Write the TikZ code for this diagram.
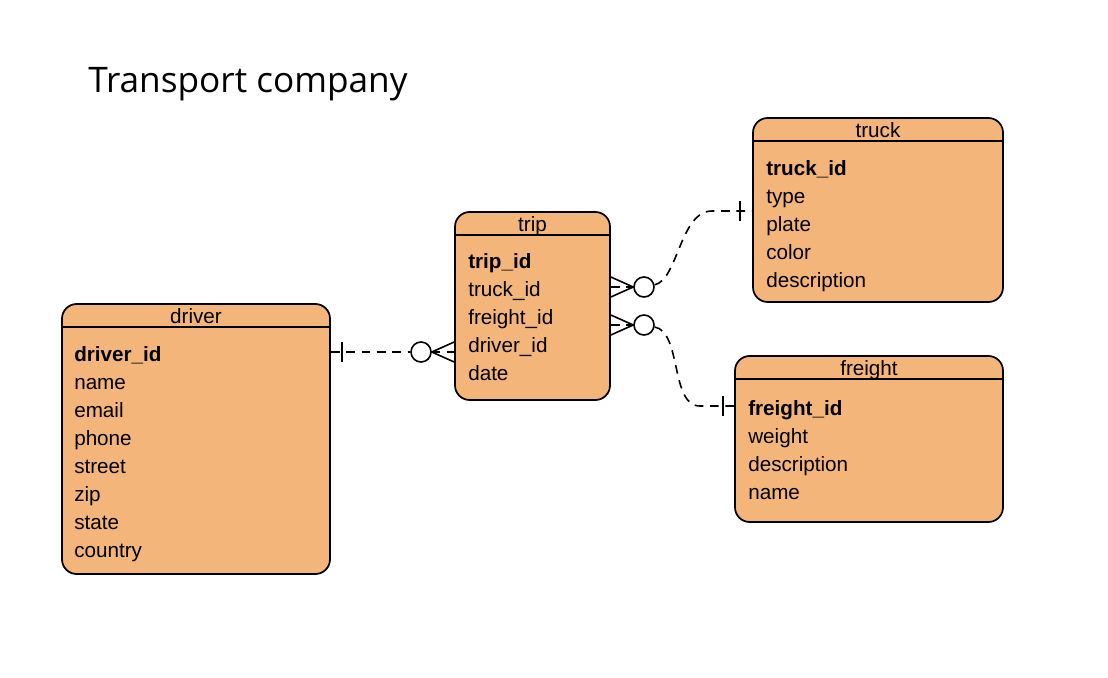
\documentclass[tikz,border=0pt]{standalone}
\usepackage{fontspec}
\setmainfont{Liberation Sans}
\newfontfamily\titlefont{Open Sans}
\definecolor{tabfill}{HTML}{F4B57A}
\begin{document}
\begin{tikzpicture}[x=0.75pt, y=-0.75pt,
  table/.style={draw, line width=1.3pt, rounded corners=11pt, fill=tabfill, inner sep=0pt},
  sep/.style={line width=1.2pt},
  header/.style={anchor=base, inner sep=0pt, font=\fontsize{15.5}{18}\selectfont},
  field/.style={anchor=base west, inner sep=0pt, font=\fontsize{15.5}{18}\selectfont},
  key/.style={field, font=\fontsize{15.5}{18}\selectfont\bfseries},
  circ/.style={draw, circle, fill=white, line width=1.2pt, minimum size=15pt, inner sep=0pt},
  rel/.style={line width=1.2pt, dash pattern=on 6.5pt off 5pt},
  foot/.style={line width=1.2pt}]

\useasboundingbox (0,0) rectangle (1108,678);

\node [anchor=base west, inner sep=0pt, font=\titlefont\fontsize{26.4}{30}\selectfont] (title) at (88,92) {Transport company};

% driver
\node [table, minimum width=201pt, minimum height=202.5pt] (driver) at (196,439) {};
\draw [sep] ([yshift=-18pt]driver.north west) -- ([yshift=-18pt]driver.north east);
\node [header] (driver-h) at (196,323) {driver};
\node [key] (driver-0) at (74,361) {driver\_id};
\foreach \f [count=\i] in {name,email,phone,street,zip,state,country}
  \node [field] (driver-\i) at (74,361+28*\i) {\f};

% trip
\node [table, minimum width=116.25pt, minimum height=141pt] (trip) at (532.5,306) {};
\draw [sep] ([yshift=-18pt]trip.north west) -- ([yshift=-18pt]trip.north east);
\node [header] (trip-h) at (532.5,231) {trip};
\node [key] (trip-0) at (468,268) {trip\_id};
\foreach \f [count=\i] in {truck\_id,freight\_id,driver\_id,date}
  \node [field] (trip-\i) at (468,268+28*\i) {\f};

% truck
\node [table, minimum width=187.5pt, minimum height=138pt] (truck) at (878,210) {};
\draw [sep] ([yshift=-18pt]truck.north west) -- ([yshift=-18pt]truck.north east);
\node [header] (truck-h) at (878,137) {truck};
\node [key] (truck-0) at (766,175) {truck\_id};
\foreach \f [count=\i] in {type,plate,color,description}
  \node [field] (truck-\i) at (766,175+28*\i) {\f};

% freight
\node [table, minimum width=201pt, minimum height=124.5pt] (freight) at (869,439) {};
\draw [sep] ([yshift=-18pt]freight.north west) -- ([yshift=-18pt]freight.north east);
\node [header] (freight-h) at (869,375) {freight};
\node [key] (freight-0) at (748,415) {freight\_id};
\foreach \f [count=\i] in {weight,description,name}
  \node [field] (freight-\i) at (748,415+28*\i) {\f};

% driver -- trip
\node [circ] (o1) at (421,352) {};
\coordinate (d1) at (driver.east |- o1);
\draw [rel] (d1) -- (o1);
\draw [foot] (d1) ++(11,-10) -- ++(0,20);
\draw [foot] (trip.west |- 0,342) -- (o1.east) -- (trip.west |- 0,362);
\draw [rel] (o1.east) -- (trip.west |- o1);

% trip -- truck
\node [circ] (o2) at (644,287) {};
\coordinate (t1) at (truck.west |- 0,211);
\draw [foot] (trip.east |- 0,277) -- (o2.west) -- (trip.east |- 0,297);
\draw [rel] (trip.east |- o2) -- (o2.west);
\draw [rel] (o2) .. controls (678,280) and (680,211) .. (712,211) -- (t1);
\draw [foot] (t1) ++(-12,-10) -- ++(0,20);

% trip -- freight
\node [circ] (o3) at (644,325) {};
\coordinate (f1) at (freight.west |- 0,406);
\draw [foot] (trip.east |- 0,315) -- (o3.west) -- (trip.east |- 0,335);
\draw [rel] (trip.east |- o3) -- (o3.west);
\draw [rel] (o3) .. controls (682,332) and (670,406) .. (700,406) -- (f1);
\draw [foot] (f1) ++(-11,-10) -- ++(0,20);

\end{tikzpicture}
\end{document}
